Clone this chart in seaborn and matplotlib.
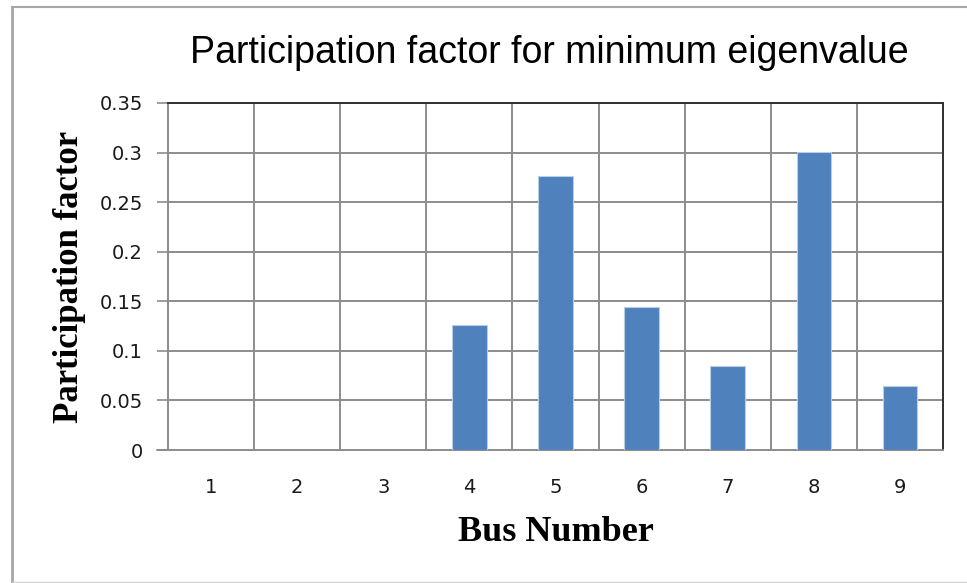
import matplotlib
matplotlib.use("Agg")
import matplotlib.pyplot as plt
from matplotlib.lines import Line2D
import seaborn as sns
import pandas as pd

# Participation factor of each bus for the minimum eigenvalue
buses = ["1", "2", "3", "4", "5", "6", "7", "8", "9"]
factors = [0.0, 0.0, 0.0, 0.126, 0.276, 0.144, 0.085, 0.301, 0.065]
y_ticks = [0, 0.05, 0.1, 0.15, 0.2, 0.25, 0.3, 0.35]
y_tick_labels = ["0", "0.05", "0.1", "0.15", "0.2", "0.25", "0.3", "0.35"]

df = pd.DataFrame({"Bus": buses, "Factor": factors})

sns.set_theme(style="white")
plt.rcParams["font.family"] = ["DejaVu Sans"]

W, H = 967, 583
fig = plt.figure(figsize=(W / 100, H / 100), dpi=100)
ax = fig.add_axes([168 / W, 1 - 450 / H, (943 - 168) / W, (450 - 103) / H])

sns.barplot(data=df, x="Bus", y="Factor", color="#4F81BD", width=0.4,
            edgecolor="#B9CDE5", linewidth=0.8, saturation=1, ax=ax, zorder=3)

ax.set_ylim(0, 0.35)
ax.set_xlim(-0.5, len(buses) - 0.5)
ax.set_yticks(y_ticks)
ax.set_yticklabels(y_tick_labels)

# grid lines: horizontal at y ticks, vertical at category boundaries
for y in y_ticks[1:]:
    ax.axhline(y, color="#8C8C8C", lw=1.4, zorder=1)
for i in range(1, len(buses)):
    ax.axvline(i - 0.5, color="#8C8C8C", lw=1.4, zorder=1)

for side in ["left", "bottom"]:
    ax.spines[side].set_color("#8C8C8C")
    ax.spines[side].set_linewidth(1.4)
for side in ["top", "right"]:
    ax.spines[side].set_color("#303030")
    ax.spines[side].set_linewidth(1.4)

ax.tick_params(axis="y", which="major", direction="out", length=8, width=1.2,
               color="#8C8C8C", left=True, pad=10, labelsize=14,
               labelcolor="#1A1A1A")
ax.tick_params(axis="x", which="major", length=0, pad=20, labelsize=14,
               labelcolor="#1A1A1A")

# extend the x axis line slightly to the left, like the y tick marks
ax.add_line(Line2D([-0.5 - 11 / 86.1, -0.5], [0, 0], color="#8C8C8C", lw=1.4,
                   clip_on=False, zorder=4))

ax.set_xlabel("Bus Number", family=["Liberation Serif", "DejaVu Serif"],
              fontweight="bold", fontsize=26, labelpad=14, color="black")
ax.set_ylabel("Participation factor", family=["Liberation Serif", "DejaVu Serif"],
              fontweight="bold", fontsize=25, labelpad=10, color="black")

fig.text(549 / W, 1 - 63 / H, "Participation factor for minimum eigenvalue",
         ha="center", va="baseline", fontsize=27, color="black",
         family=["Liberation Sans", "DejaVu Sans"])

# chart frame
fig.add_artist(Line2D([12 / W, 12 / W], [1 - 7 / H, 1 - 582 / H],
                      transform=fig.transFigure, color="#A6A6A6", lw=2))
fig.add_artist(Line2D([12 / W, 1], [1 - 7 / H, 1 - 7 / H],
                      transform=fig.transFigure, color="#A6A6A6", lw=1.5))
fig.add_artist(Line2D([12 / W, 1], [1 - 581.5 / H, 1 - 581.5 / H],
                      transform=fig.transFigure, color="#D0D0D0", lw=1))

fig.savefig("out.png", dpi=100)
